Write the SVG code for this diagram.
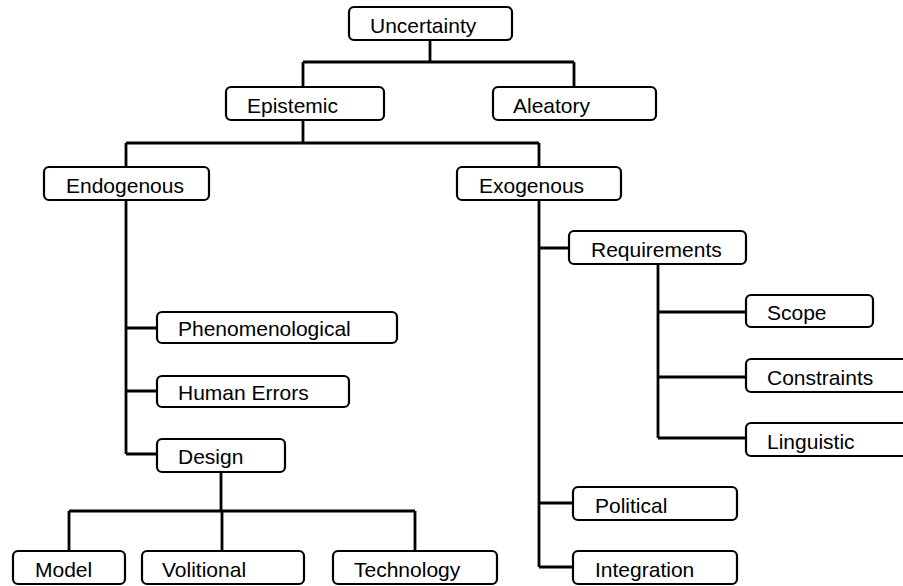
<svg xmlns="http://www.w3.org/2000/svg" width="903" height="586" viewBox="0 0 903 586">
<style>
.box{fill:#fff;stroke:#000;stroke-width:2.2}
.lbl{font-family:"Liberation Sans",Arial,sans-serif;font-size:21px;fill:#000}
.con{fill:none;stroke:#000;stroke-width:2.8}
</style>
<rect width="903" height="586" fill="#fff"/>
<g id="connectors" class="con">
<path d="M430 40V62M303 62H574M303 62V87M574 62V87"/>
<path d="M303 120V143M126 143H539M126 143V167M539 143V167"/>
<path d="M126 200V454M126 328H157M126 391H157M126 454H157"/>
<path d="M539 201V567M539 248H569M539 503H573M539 567H573"/>
<path d="M658 264V438M658 312H746M658 377H746M658 438H746"/>
<path d="M221 472V511M69 511H415M69 511V551M222 511V551M415 511V551"/>
</g>
<g id="uncertainty"><rect class="box" x="349" y="7" width="163" height="33" rx="5"/><text class="lbl" x="370" y="33">Uncertainty</text></g>
<g id="epistemic"><rect class="box" x="226" y="87" width="158" height="33" rx="5"/><text class="lbl" x="247" y="113">Epistemic</text></g>
<g id="aleatory"><rect class="box" x="493" y="87" width="163" height="33" rx="5"/><text class="lbl" x="513" y="113">Aleatory</text></g>
<g id="endogenous"><rect class="box" x="44" y="167" width="165" height="33" rx="5"/><text class="lbl" x="66" y="193">Endogenous</text></g>
<g id="exogenous"><rect class="box" x="457" y="167" width="164" height="33" rx="5"/><text class="lbl" x="479" y="193">Exogenous</text></g>
<g id="requirements"><rect class="box" x="569" y="231" width="177" height="33" rx="5"/><text class="lbl" x="591" y="257">Requirements</text></g>
<g id="phenomenological"><rect class="box" x="157" y="312" width="240" height="31" rx="5"/><text class="lbl" x="178" y="336">Phenomenological</text></g>
<g id="human-errors"><rect class="box" x="157" y="376" width="192" height="31" rx="5"/><text class="lbl" x="178" y="400">Human Errors</text></g>
<g id="design"><rect class="box" x="157" y="439" width="128" height="33" rx="5"/><text class="lbl" x="178" y="464">Design</text></g>
<g id="model"><rect class="box" x="13" y="551" width="112" height="33" rx="5"/><text class="lbl" x="35" y="577">Model</text></g>
<g id="volitional"><rect class="box" x="142" y="551" width="162" height="33" rx="5"/><text class="lbl" x="162" y="577">Volitional</text></g>
<g id="technology"><rect class="box" x="333" y="551" width="164" height="33" rx="5"/><text class="lbl" x="354" y="577">Technology</text></g>
<g id="scope"><rect class="box" x="746" y="295" width="127" height="32" rx="5"/><text class="lbl" x="767" y="320">Scope</text></g>
<g id="constraints"><rect class="box" x="746" y="359" width="170" height="33" rx="5"/><text class="lbl" x="767" y="385">Constraints</text></g>
<g id="linguistic"><rect class="box" x="746" y="423" width="170" height="33" rx="5"/><text class="lbl" x="767" y="449">Linguistic</text></g>
<g id="political"><rect class="box" x="573" y="487" width="164" height="33" rx="5"/><text class="lbl" x="595" y="513">Political</text></g>
<g id="integration"><rect class="box" x="573" y="551" width="164" height="33" rx="5"/><text class="lbl" x="595" y="577">Integration</text></g>
</svg>
